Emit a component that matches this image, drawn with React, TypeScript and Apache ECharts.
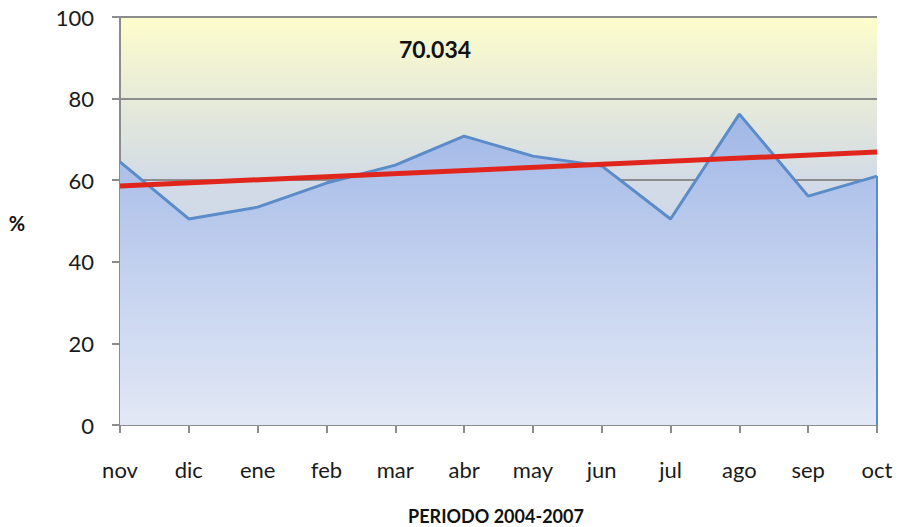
import React, { useEffect, useRef } from "react";
import * as echarts from "echarts";

const categories = ["nov", "dic", "ene", "feb", "mar", "abr", "may", "jun", "jul", "ago", "sep", "oct"];
const values = [64.5, 50.5, 53.4, 59.3, 63.7, 70.8, 65.9, 63.5, 50.5, 76.2, 56.1, 61.0];
const trend = [58.6, null, null, null, null, null, null, null, null, null, null, 66.9];
const yTicks = [0, 20, 40, 60, 80, 100];
const annotation = "70.034";
const yTitle = "%";
const xTitle = "PERIODO 2004-2007";

const FONT = "Lato, 'Open Sans', sans-serif";

export default function App() {
  const ref = useRef<HTMLDivElement>(null);
  useEffect(() => {
    const chart = echarts.init(ref.current!, null, { renderer: "svg" });
    chart.setOption({
      animation: false,
      backgroundColor: "#ffffff",
      grid: {
        left: 120,
        right: 22,
        top: 17,
        bottom: 102,
        show: true,
        borderWidth: 0,
        backgroundColor: new echarts.graphic.LinearGradient(0, 0, 0, 1, [
          { offset: 0, color: "#fdfdcb" },
          { offset: 0.2, color: "#e7ebd9" },
          { offset: 0.4, color: "#d2dbe6" },
          { offset: 1, color: "#c5d3ee" },
        ]),
      },
      xAxis: {
        type: "category",
        data: categories,
        boundaryGap: false,
        axisLine: { lineStyle: { color: "#8c8c8c", width: 2 } },
        axisTick: { show: true, length: 8, lineStyle: { color: "#8c8c8c", width: 2 }, alignWithLabel: true },
        axisLabel: { color: "#1a1a1a", fontSize: 22, fontFamily: FONT, margin: 33 },
        splitLine: { show: false },
      },
      yAxis: {
        type: "value",
        min: 0,
        max: 100,
        interval: 20,
        axisLine: { show: true, lineStyle: { color: "#8c8c8c", width: 2 } },
        axisTick: { show: true, length: 8, lineStyle: { color: "#8c8c8c", width: 2 } },
        axisLabel: {
          color: "#1a1a1a",
          fontSize: 22,
          fontFamily: FONT,
          margin: 26,
          formatter: (v: number) => (yTicks.includes(v) ? String(v) : ""),
        },
        splitLine: { show: true, lineStyle: { color: "#8c8c8c", width: 2 } },
      },
      graphic: [
        {
          type: "text",
          x: 435,
          y: 49,
          style: { text: annotation, fill: "#111", font: `bold 23px ${FONT}`, align: "center", verticalAlign: "middle" },
        },
        {
          type: "text",
          x: 17,
          y: 223,
          style: { text: yTitle, fill: "#111", font: `bold 20px ${FONT}`, align: "center", verticalAlign: "middle" },
        },
        {
          type: "text",
          x: 496,
          y: 516,
          style: { text: xTitle, fill: "#111", font: `bold 18px ${FONT}`, align: "center", verticalAlign: "middle" },
        },
      ],
      series: [
        {
          type: "line",
          data: values,
          symbol: "none",
          z: 2,
          lineStyle: { color: "#5b8bc8", width: 3 },
          areaStyle: {
            opacity: 1,
            color: new echarts.graphic.LinearGradient(0, 0, 0, 1, [
              { offset: 0, color: "#a0b7e6" },
              { offset: 0.5, color: "#c3d1ef" },
              { offset: 1, color: "#e2e8f5" },
            ]),
          },
          markLine: {
            symbol: "none",
            silent: true,
            label: { show: false },
            lineStyle: { color: "#5b8bc8", width: 2, type: "solid" },
            data: [[{ coord: ["oct", 0] }, { coord: ["oct", values[values.length - 1]] }]],
          },
        },
        {
          type: "line",
          data: trend,
          connectNulls: true,
          symbol: "none",
          z: 3,
          lineStyle: { color: "#e0261c", width: 5 },
        },
      ],
    });
    return () => chart.dispose();
  }, []);
  return (
    <div
      ref={ref}
      style={{ position: "absolute", left: 0, top: 0, width: 899, height: 527 }}
    />
  );
}
